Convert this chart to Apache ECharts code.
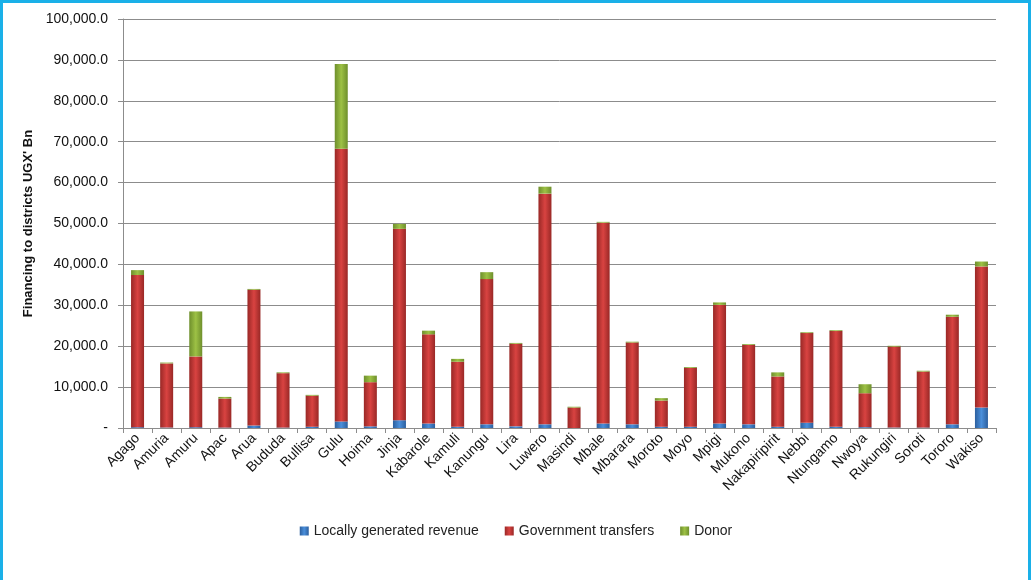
<!DOCTYPE html>
<html>
<head>
<meta charset="utf-8">
<script src="https://cdn.jsdelivr.net/npm/echarts@6/dist/echarts.min.js"></script>
<style>
html,body{margin:0;padding:0;background:#fff;}
#frame{position:absolute;left:0;top:0;width:1025px;height:580px;border:3px solid #1AB0E8;border-bottom:none;box-sizing:content-box;}
#chart{position:absolute;left:0;top:0;width:1032px;height:580px;}
</style>
</head>
<body>
<div id="chart"></div>
<div id="frame"></div>
<script>
var districts = ["Agago","Amuria","Amuru","Apac","Arua","Bududa","Bullisa","Gulu","Hoima","Jinja","Kabarole","Kamuli","Kanungu","Lira","Luwero","Masindi","Mbale","Mbarara","Moroto","Moyo","Mpigi","Mukono","Nakapiripirit","Nebbi","Ntungamo","Nwoya","Rukungiri","Soroti","Tororo","Wakiso"];
var localRevenue = [200,100,200,100,600,100,300,1600,400,1900,1100,300,900,400,900,0,1100,900,300,300,1100,900,300,1300,300,200,100,100,900,5000];
var govTransfers = [37200,15700,17300,7100,33200,13300,7600,66700,10800,46800,21800,15900,35500,20200,56400,5000,49100,20000,6400,14400,29000,19400,12300,21900,23400,8300,19800,13700,26300,34500];
var donor = [1200,200,11000,400,200,200,200,20700,1600,1200,900,700,1700,200,1700,200,200,200,600,200,600,200,1000,200,200,2200,200,200,500,1200];
var seriesNames = ["Locally generated revenue","Government transfers","Donor"];

function grad(edge, mid){
  return new echarts.graphic.LinearGradient(0,0,1,0,[
    {offset:0,color:edge},{offset:0.5,color:mid},{offset:1,color:edge}
  ]);
}
var fontFam = "'Liberation Sans', Arial, sans-serif";
var chart = echarts.init(document.getElementById('chart'));
var barW = 13;
chart.setOption({
  animation:false,
  textStyle:{fontFamily:fontFam},
  grid:{left:123,right:36,top:19,bottom:152},
  legend:{
    top:519,left:'center',itemWidth:9,itemHeight:9,itemGap:26,
    icon:'rect',
    textStyle:{fontSize:14,color:'#222',fontFamily:fontFam},
    data:seriesNames
  },
  xAxis:{
    type:'category',data:districts,
    axisLine:{lineStyle:{color:'#8c8c8c'}},
    axisTick:{show:true,length:5,lineStyle:{color:'#8c8c8c'}},
    axisLabel:{rotate:45,interval:0,fontSize:14,color:'#111',margin:8,fontFamily:fontFam}
  },
  yAxis:{
    type:'value',min:0,max:100000,interval:10000,
    name:"Financing to districts UGX' Bn",nameLocation:'middle',nameGap:86,
    nameTextStyle:{fontSize:13,fontWeight:'bold',color:'#111',fontFamily:fontFam},
    axisLine:{show:true,lineStyle:{color:'#8c8c8c'}},
    axisTick:{show:true,length:5,lineStyle:{color:'#8c8c8c'}},
    splitLine:{lineStyle:{color:'#8c8c8c'}},
    axisLabel:{fontSize:14,color:'#111',margin:15,fontFamily:fontFam,
      formatter:function(v){ if(v===0) return '-'; return v.toLocaleString('en-US',{minimumFractionDigits:1,maximumFractionDigits:1}); }}
  },
  series:[
    {name:seriesNames[0],type:'bar',stack:'t',barWidth:barW,data:localRevenue,
     itemStyle:{color:grad('#2C5F9E','#4A8FDB')}},
    {name:seriesNames[1],type:'bar',stack:'t',barWidth:barW,data:govTransfers,
     itemStyle:{color:grad('#992826','#D94341')}},
    {name:seriesNames[2],type:'bar',stack:'t',barWidth:barW,data:donor,
     itemStyle:{color:grad('#6E8F2C','#9DC145')}}
  ]
});
</script>
</body>
</html>
